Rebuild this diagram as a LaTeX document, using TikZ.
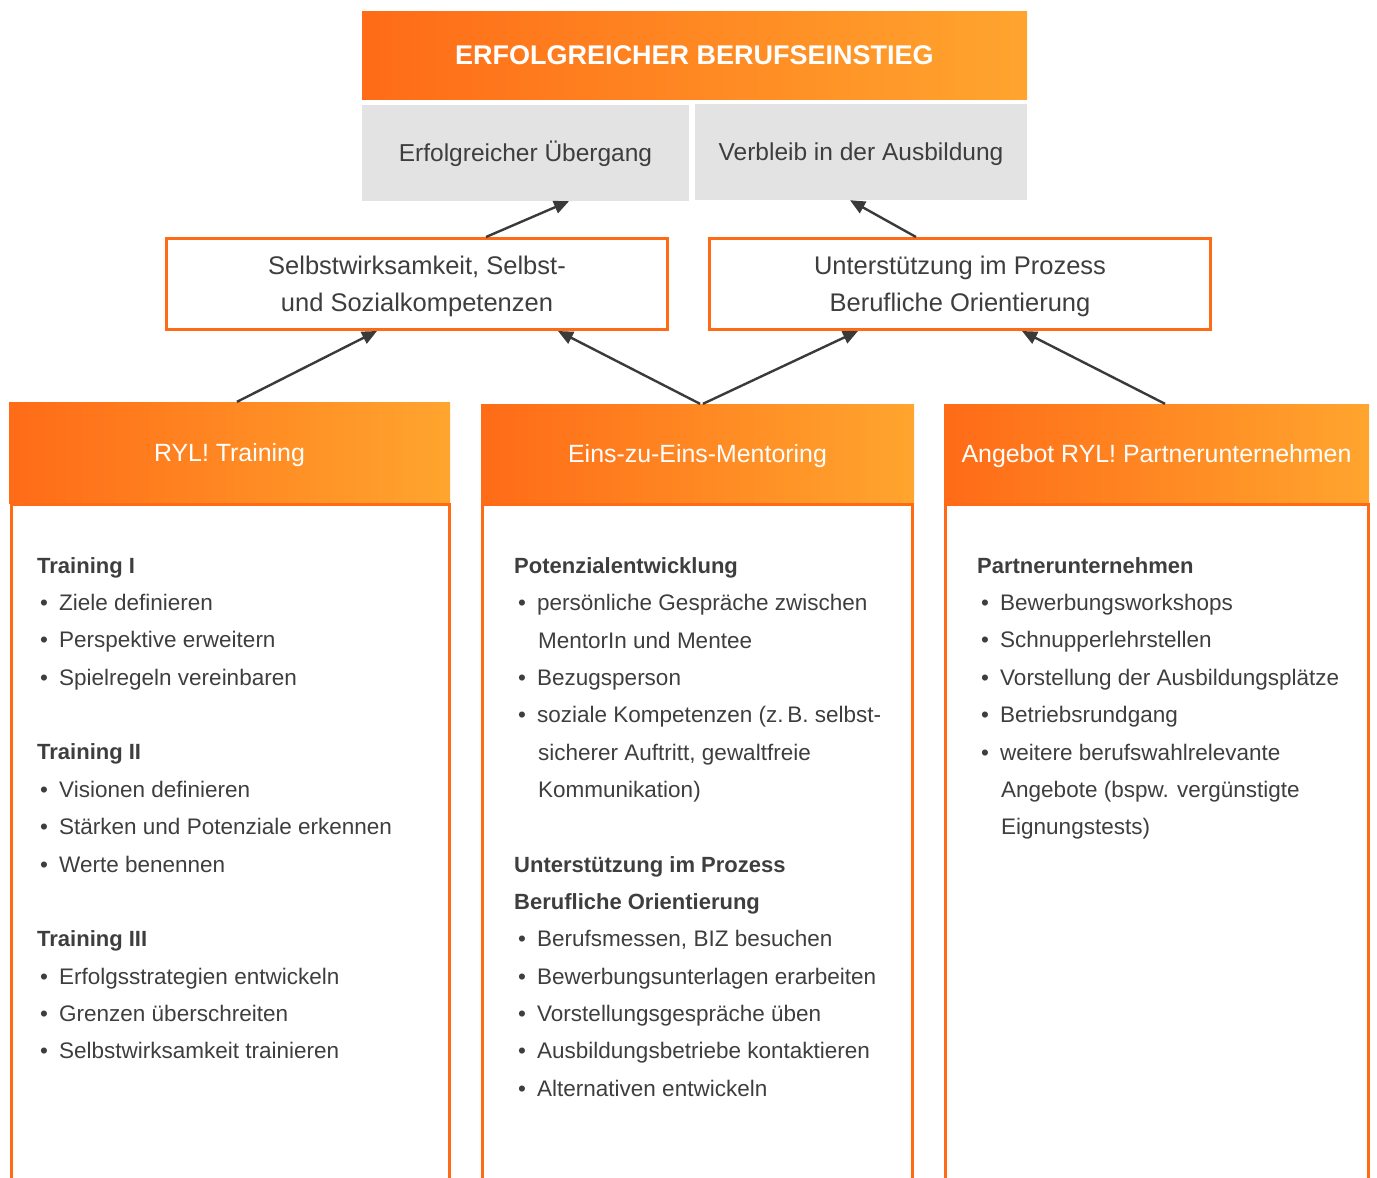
\documentclass[tikz,border=0pt]{standalone}
\usepackage{fontspec}
\setmainfont{Liberation Sans}
\usetikzlibrary{arrows.meta}
\definecolor{oL}{HTML}{FF6B17}
\definecolor{oR}{HTML}{FFA52E}
\definecolor{oLine}{HTML}{FF6A14}
\definecolor{gBox}{HTML}{E3E3E3}
\definecolor{txt}{HTML}{3E3E3E}
\definecolor{arr}{HTML}{3A3A3A}
\newcommand{\bul}{\makebox[19pt][l]{•}}
\begin{document}
\begin{tikzpicture}[x=1pt,y=-1pt,
 capc/.style={text height=17.7pt,text depth=0pt},
 grad/.style={left color=oL,right color=oR,draw=none,inner sep=0pt,text=white,align=center,capc},
 greybox/.style={fill=gBox,inner sep=0pt,text=txt,capc,font=\fontsize{24.5}{28}\selectfont},
 outbox/.style={draw=oLine,line width=3pt,fill=white,inner sep=0pt,minimum width=501pt,minimum height=91pt},
 outtext/.style={inner sep=0pt,text=txt,align=center,font=\fontsize{25.5}{37}\selectfont},
 hdrtext/.style={font=\fontsize{24.9}{28}\selectfont},
 conn/.style={draw=arr,line width=2.4pt,-{Triangle[length=15pt,width=13pt]}},
 body/.style={anchor=base west,inner sep=0pt,text=txt,font=\fontsize{22.5}{26}\selectfont},
 head/.style={anchor=base west,inner sep=0pt,text=txt,font=\fontsize{22}{26}\selectfont\bfseries},
 colline/.style={draw=oLine,line width=3pt}
]
\useasboundingbox (0,0) rectangle (1377,1178);

% top banner
\node[grad,text height=19.3pt,minimum width=665pt,minimum height=88pt,font=\fontsize{27}{30}\selectfont\bfseries] (title) at (694.5,55) {ERFOLGREICHER BERUFSEINSTIEG};
\node[greybox,minimum width=327pt,minimum height=96pt] (g1) at (525.5,153) {Erfolgreicher Übergang};
\node[greybox,minimum width=332pt,minimum height=96pt] (g2) at (861,152) {Verbleib in der Ausbildung};

% middle boxes
\node[outbox] (b1) at (417,284) {};
\node[outtext,yshift=-2pt] (b1t) at (b1.center) {Selbstwirksamkeit, Selbst-\\und Sozialkompetenzen};
\node[outbox] (b2) at (960,284) {};
\node[outtext,yshift=-2pt] (b2t) at (b2.center) {Unterstützung im Prozess\\Berufliche Orientierung};

% column headers
\node[grad,hdrtext,minimum width=441pt,minimum height=101pt] (h1) at (229.5,452.5) {RYL! Training};
\node[grad,hdrtext,minimum width=433pt,minimum height=99pt] (h2) at (697.5,453.5) {Eins-zu-Eins-Mentoring};
\node[grad,hdrtext,minimum width=425pt,minimum height=99pt] (h3) at (1156.5,453.5) {Angebot RYL! Partnerunternehmen};

% column bodies (open at the bottom)
\draw[colline] (11,1180) |- (449,504) -- (449,1180);
\draw[colline] (482,1180) |- (912,504) -- (912,1180);
\draw[colline] (945,1180) |- (1368,504) -- (1368,1180);

% connectors
\draw[conn] ([xshift=69pt]b1.north) -- ([xshift=43.5pt]g1.south);
\draw[conn] ([xshift=-44pt]b2.north) -- ([xshift=-11pt]g2.south);
\draw[conn] ([xshift=7.5pt]h1.north) -- ([xshift=-40pt]b1.south);
\draw[conn] ([xshift=2.5pt]h2.north) -- ([xshift=141pt]b1.south);
\draw[conn] ([xshift=5.5pt]h2.north) -- ([xshift=-102pt]b2.south);
\draw[conn] ([xshift=8.5pt]h3.north) -- ([xshift=62pt]b2.south);

% left column text
\node[head] (l1) at (37,573) {Training I};
\node[body] (l2) at (40,610) {\bul Ziele definieren};
\node[body] (l3) at (40,647) {\bul Perspektive erweitern};
\node[body] (l4) at (40,685) {\bul Spielregeln vereinbaren};
\node[head] (l5) at (37,759) {Training II};
\node[body] (l6) at (40,797) {\bul Visionen definieren};
\node[body] (l7) at (40,834) {\bul Stärken und Potenziale erkennen};
\node[body] (l8) at (40,872) {\bul Werte benennen};
\node[head] (l9) at (37,946) {Training III};
\node[body] (l10) at (40,984) {\bul Erfolgsstrategien entwickeln};
\node[body] (l11) at (40,1021) {\bul Grenzen überschreiten};
\node[body] (l12) at (40,1058) {\bul Selbstwirksamkeit trainieren};

% middle column text
\node[head] (m1) at (514,573) {Potenzialentwicklung};
\node[body] (m2) at (518,610) {\bul persönliche Gespräche zwischen};
\node[body] (m3) at (538,648) {MentorIn und Mentee};
\node[body] (m4) at (518,685) {\bul Bezugsperson};
\node[body] (m5) at (518,722) {\bul soziale Kompetenzen (z.\,B. selbst-};
\node[body] (m6) at (538,760) {sicherer Auftritt, gewaltfreie};
\node[body] (m7) at (538,797) {Kommunikation)};
\node[head] (m8) at (514,872) {Unterstützung im Prozess};
\node[head] (m9) at (514,909) {Berufliche Orientierung};
\node[body] (m10) at (518,946) {\bul Berufsmessen, BIZ besuchen};
\node[body] (m11) at (518,984) {\bul Bewerbungsunterlagen erarbeiten};
\node[body] (m12) at (518,1021) {\bul Vorstellungsgespräche üben};
\node[body] (m13) at (518,1058) {\bul Ausbildungsbetriebe kontaktieren};
\node[body] (m14) at (518,1096) {\bul Alternativen entwickeln};

% right column text
\node[head] (r1) at (977,573) {Partnerunternehmen};
\node[body] (r2) at (981,610) {\bul Bewerbungsworkshops};
\node[body] (r3) at (981,647) {\bul Schnupperlehrstellen};
\node[body] (r4) at (981,685) {\bul Vorstellung der Ausbildungsplätze};
\node[body] (r5) at (981,722) {\bul Betriebsrundgang};
\node[body] (r6) at (981,760) {\bul weitere berufswahlrelevante};
\node[body] (r7) at (1001,797) {Angebote (bspw. vergünstigte};
\node[body] (r8) at (1001,834) {Eignungstests)};
\end{tikzpicture}
\end{document}
